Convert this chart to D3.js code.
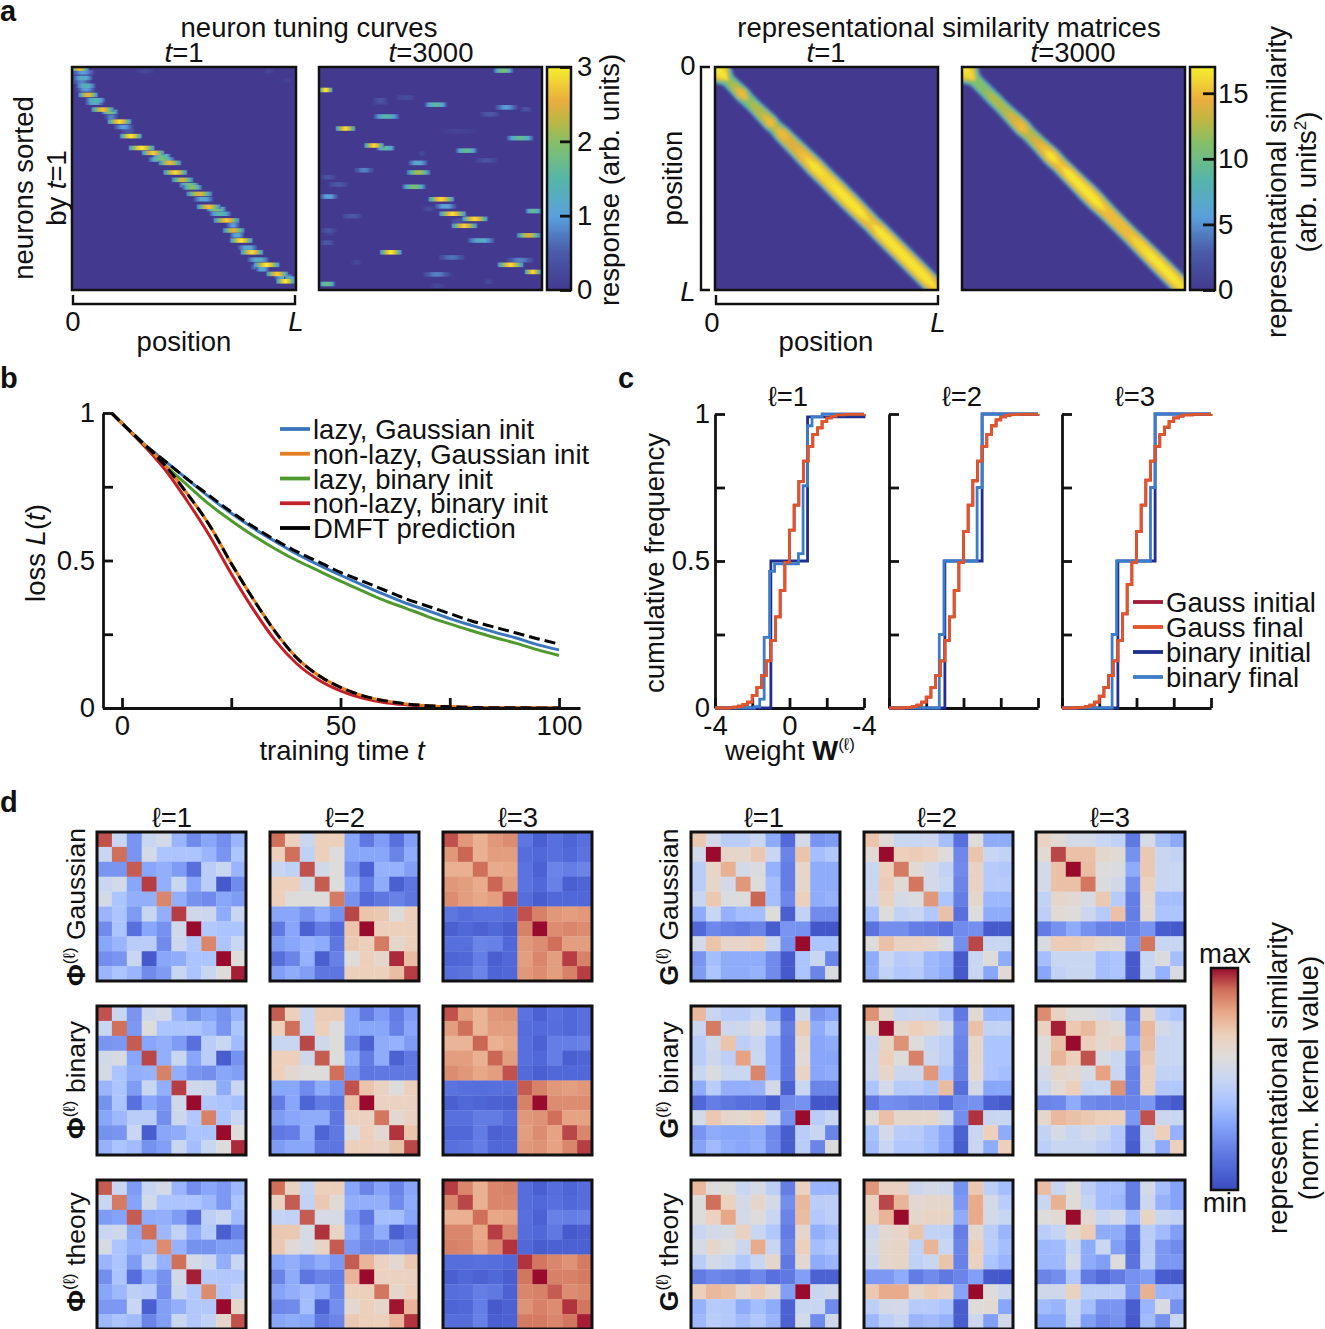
<!DOCTYPE html>
<html>
<head>
<meta charset="utf-8">
<script src="https://cdnjs.cloudflare.com/ajax/libs/d3/7.8.5/d3.min.js"></script>
<style>
html, body { margin: 0; padding: 0; background: #fff; }
svg { display: block; }
text { font-family: "Liberation Sans", Arial, sans-serif; font-size: 27.5px; fill: #111; }
.tick text { font-size: 27.5px; }
</style>
</head>
<body>
<div id="chart"></div>
<script>
// ---- panel a: tuning curves, [neuron %, position %, half width %, peak response]
var tuningStart = [
	[0.7,3.4,4.6,2.6],[2.4,4.9,5.6,1],[4.9,4.9,4.9,1.3],[6.6,4.3,4.6,.8],[8.4,6.2,4.9,1.4],[10,6.2,4.6,1],
	[12.5,7.2,4.9,2.6],[14.9,10.5,4.9,1.5],[16,10,4.6,1.2],[19.1,13.7,5.6,2.7],[20.1,16.9,4.1,2],[22.4,17.5,3.4,.8],
	[24.5,21.2,5.9,2.9],[26.9,23,4.9,1],[28.7,25,3.4,.5],[31,26.3,5.4,3],[36.3,31.1,6.4,3],[38.5,36.2,5.6,2.8],
	[40,40,4.6,1.8],[41.5,40,6.4,1.9],[43,43.7,5.6,2.6],[47.3,46.1,5.9,2.9],[50.6,49.3,5.4,2.4],[53,52.2,4.9,1.9],
	[54,53.7,4.9,2],[56.9,56.8,6.4,2.5],[59.3,58.7,4.9,1.2],[62.7,61,5.9,2.7],[63.7,64.4,4.9,2],[65.8,66.2,5.4,1.5],
	[68.8,69,6.4,2.8],[71,71.9,3.4,1],[73.3,72.2,5.4,2.5],[75.5,73.7,3.6,1.2],[77.8,75.6,5.6,3],[81,78.4,4.9,1.2],
	[83.1,80.3,5.6,2.9],[86.4,83.1,5.4,1.3],[88.7,86.9,6.4,3],[89.7,84,4.6,1.2],[90.7,85,3.4,1.2],[92.8,91.6,5.4,2.8],
	[94,94.4,4.6,1.3],[94.9,97.2,2.8,1.5],[96.1,95.3,4.6,3],[1.8,32.5,4.6,.2],[1.8,87.8,2.3,.2],[6,96.2,2.3,.15]
];
var tuningEnd = [
	[1.6,82.7,4.9,1.9],[10.3,3,3.4,3],[13.7,38.8,4.9,.3],[14.9,27.5,3.6,.4],[15.8,27.5,4.1,.3],[16.9,52.4,5.6,1.6],
	[18.1,84,5.6,1],[19,92.8,2.8,.4],[21.2,76.5,4.6,.5],[22.2,30.3,6.4,1.5],[27.6,11.9,4.9,2.9],[28.8,62.3,9,.15],
	[31.9,90.2,6.7,1.7],[35.2,24.7,4.9,2.9],[36.4,29.9,4.6,1.6],[37.5,66.1,5.4,1.7],[38.7,46.3,1.8,.2],[41.9,75.1,5.4,.4],
	[43,44.4,4.9,1.2],[46.3,20.2,4.9,.8],[47.3,44.6,5.9,2.2],[49.4,4.3,3.6,.4],[52.7,8.7,4.9,.5],[53.7,42.6,5.9,1.9],
	[58.1,4.3,4.6,1.1],[59.3,54.8,6.4,2.9],[62.5,56.7,5.4,1.1],[63.6,49.2,3.1,.3],[64.6,96.2,4.1,1.7],[65.8,59.9,6.7,2.9],
	[66.9,14.9,4.9,.5],[68.1,69.9,6.4,2.9],[69,62.3,3.4,.4],[71.2,65.2,6.4,2.8],[73.3,4.3,4.1,.4],[74.5,4.9,2.3,.2],
	[75.5,94,5.9,2.5],[77.8,72.7,6.7,1.3],[78.8,3.6,3.4,.5],[83.1,32.2,5.4,3],[85.4,59.5,6.4,.7],[86.6,90.2,6.7,.8],
	[87.6,16.8,2.8,.2],[88.7,85.9,6.4,2.9],[91.9,95.9,4.1,2.9],[93,52.9,6.7,.8],[96.3,75.9,2.3,.2],[97.3,3.6,4.1,1.8],[98.2,53.3,3.6,.2]
];
// peak profile along the diagonal of the similarity matrices
var simPosStart  = [0,3,6,9,12,15,18,21,25,27,30,33,36,40,45,50,55,60,65,70,74,80,85,90,95,100];
var simPeakStart = [16.8,16.8,12.5,13.5,15.5,12.5,13,14,15.5,13,15.5,15,15,16,16.8,16.5,16.8,16.8,16.8,15.5,16.8,16.8,16.8,16.8,16.8,15.5];
var simHalfStart = [5.4,4.4,2.6,2.7,2.9,2.7,2.7,2.8,3,2.8,3.1,3.2,3.3,3.4,3.6,3.5,3.6,3.6,3.5,3.4,3.5,3.5,3.5,3.5,3.5,3.5];
var simPosEnd    = [0,3,6,10,14,18,20,24,27,30,34,37,40,44,48,52,56,60,65,70,75,80,85,90,95,100];
var simPeakEnd   = [16.8,16.5,12.5,12.5,13,13,13.5,15,15.5,14,14.5,15.5,16.8,15.5,16.8,16.8,16.8,16.8,15.8,15.8,15.8,16.5,16.8,16.8,16.8,16.5];
var simHalfEnd   = [5.4,4.4,2.6,2.6,2.7,2.7,2.8,3,3.2,2.9,3,3.2,3.4,3.2,3.3,3.4,3.6,3.6,3.3,3.2,3.2,3.3,3.4,3.5,3.5,3.5];
// band cross-section: share of the local peak against share of the half width
var bandLevel = [0.05,0.2,0.35,0.5,0.65,0.8,0.9,0.97,1];
var bandWidth = [1,0.9,0.84,0.78,0.72,0.64,0.54,0.38,0.2];

// ---- panel b: loss curves
var lossTime = [-2.4,0,5,10,15,20,25,30,35,40,45,50,55,60,65,70,75,80,85,90,95,100];
var lazyDmft   = [1,.965,.895,.835,.775,.72,.665,.615,.57,.53,.495,.46,.43,.40,.37,.345,.32,.295,.275,.255,.235,.217];
var lazyGauss  = [1,.965,.895,.835,.775,.715,.66,.61,.565,.522,.485,.45,.417,.385,.355,.33,.303,.28,.258,.238,.215,.197];
var lazyBinary = [1,.965,.89,.82,.755,.69,.635,.585,.54,.5,.465,.43,.397,.365,.338,.31,.285,.262,.24,.22,.198,.178];
var richDmft   = [1,.965,.895,.82,.725,.62,.49,.37,.26,.17,.11,.07,.042,.025,.014,.008,.004,.002,.001,.001,0,0];
var richGauss  = [1,.965,.895,.82,.725,.62,.49,.37,.26,.17,.11,.07,.042,.025,.014,.008,.004,.002,.001,.001,0,0];
var richBinary = [1,.965,.89,.805,.70,.585,.455,.335,.23,.15,.095,.058,.034,.019,.011,.006,.003,.002,.001,.001,0,0];
var lossLegend = ["lazy, Gaussian init","non-lazy, Gaussian init","lazy, binary init","non-lazy, binary init","DMFT prediction"];
var lossColors = ["#3a76bb","#e5801f","#4f9a2e","#c21f26","#000000"];

// ---- panel c: weight distributions
var gaussBins = [-4,-3.25,-3,-2.75,-2.5,-2.25,-2,-1.75,-1.5,-1.25,-1,-.75,-.5,-.25,0,.25,.5,.75,1,1.25,1.5,1.75,2,2.25,2.5,3,4];
var gaussFinal1 = [0,.001,.003,.006,.012,.02,.043,.07,.11,.16,.23,.31,.40,.495,.605,.69,.77,.84,.89,.93,.953,.975,.987,.992,.997,.999,1];
var gaussFinal2 = [0,.001,.002,.005,.01,.02,.037,.07,.11,.16,.23,.31,.40,.495,.60,.69,.773,.84,.89,.93,.96,.98,.99,.995,.998,.999,1];
var gaussFinal3 = [0,.001,.002,.005,.01,.02,.04,.07,.11,.16,.23,.32,.42,.495,.60,.69,.775,.84,.89,.93,.955,.975,.987,.993,.997,.999,1];
var binaryInitialX1 = [-4,-1,.97,4];
var binaryInitialY1 = [0,.5,.99,1];
var binaryInitialX = [-4,-1,1,4];
var binaryInitialY = [0,.5,1,1];
var binaryFinalX1 = [-4,-1.9,-1.6,-1.36,-1.07,-.8,.48,.73,.97,1.21,1.75,4];
var binaryFinalY1 = [0,.005,.03,.24,.465,.49,.525,.756,.96,.99,1,1];
var binaryFinalX2 = [-4,-1.3,-1.05,.73,1,4];
var binaryFinalY2 = [0,.25,.5,.75,1,1];
var binaryFinalX3 = [-4,-1.31,-1.07,.75,1,4];
var binaryFinalY3 = [0,.25,.5,.75,1,1];
var weightLegend = ["Gauss initial","Gauss final","binary initial","binary final"];
var weightColors = ["#a01c38","#e0552a","#1f2f90","#3d7cc9"];

// ---- panel d: kernels, 0 = min, 10 = max
var phiGauss1 = [
[9.3,5,2.5,5,5.5,3.5,2.2,3,2.3,3.5],[5,9,2.5,5.5,4,4,4,3.5,2.5,4],[2.5,2.5,9.2,3,3.3,2.7,1.3,4.5,5,3.5],
[5,5.5,3,9.5,3.3,5,3,4.5,.5,2.2],[5.5,4,3.3,3.3,8.6,3.3,2.4,2.2,3,2.7],[3.5,4,2.7,5,3.3,9.5,5.3,5.2,3.2,5],
[2.2,4,1.3,3,2.4,5.3,10,4.2,4,4],[3,3.5,4.5,4.5,2.2,5.2,4.2,8.6,4,5],[2.3,2.5,5,.5,3,3.2,4,4,10,6],[3.5,4,3.5,2.2,2.7,5,4,5,6,9.8]];
var phiGauss2 = [
[9,7,5,7,7,3,1.6,2.7,1.3,2.8],[7,9,4.7,7,6,3,3,3,2,3.2],[5,4.7,9.3,5.4,6,2.4,.8,3.4,3.4,2.8],
[7,7,5.4,9.2,6,3.2,1.8,3.2,.7,1.5],[7,6,6,6,8.8,2.4,1.1,1.5,1.9,1.5],[3,3,2.4,3.2,2.4,9.4,7.3,7.2,6,7],
[1.6,3,.8,1.8,1.1,7.3,10,7,7,7],[2.7,3,3.4,3.2,1.5,7.2,7,8.8,6.5,7],[1.3,2,3.4,.7,1.9,6,7,6.5,9.7,7.5],[2.8,3.2,2.8,1.5,1.5,7,7,7,7.5,9.5]];
var phiGauss3 = [
[9.3,8.3,7.8,8.3,8.5,1.5,.7,1.3,.9,1.3],[8.3,9.1,7.8,8.2,8.2,1.2,1,1.3,1,1.4],[7.8,7.8,9,7.9,8,1.4,.8,2,1.8,2],
[8.3,8.2,7.9,9.1,8.2,1.4,1,1.9,.7,.9],[8.5,8.2,8,8.2,9.3,1.2,.6,1,1,1],[1.5,1.2,1.4,1.4,1.2,9.3,8.7,8.3,8.2,8.3],
[.7,1,.8,1,.6,8.7,10,8.5,8.6,8.5],[1.3,1.3,2,1.9,1,8.3,8.5,9,8.2,8.2],[.9,1,1.8,.7,1,8.2,8.6,8.2,9.5,8.7],[1.3,1.4,2,.9,1,8.3,8.5,8.2,8.7,9.5]];
var phiBinary1 = [
[9.3,5,2.5,5.2,5.5,3.5,2.4,3,2.4,3.4],[5,9,2.6,6,4,4,4,3.6,2.5,4],[2.5,2.6,9.2,3,3.3,2.7,1.3,4.5,5,3.7],
[5.4,5.7,3,9.4,3.3,5,3,4.5,.6,2.4],[5.5,4,3.3,3.4,8.7,3.3,2.5,2.3,3,2.8],[3.5,4,2.7,5,3.3,9.5,5.3,5.2,3.2,5],
[2.4,4,1.3,3,2.5,5.3,10,4.2,4,3.8],[3,3.6,4.5,4.5,2.3,5.2,4.2,8.7,4,5],[2.4,2.5,5,.6,3,3.2,4,4,10,6],[3.4,4,3.7,2.4,2.8,5,3.8,5,6,9.7]];
var phiBinary2 = [
[9.2,7,5,7.1,7.1,3,1.7,2.7,1.7,2.7],[7,9,5,7,6,3,3,3,1.9,3],[5,5,9.4,5.3,6,2.2,.8,3.2,3.4,2.7],
[7,7,5.3,9.2,6,3.2,1.7,3.2,.8,1.6],[7,6.3,6,6,9,2.5,1.5,1.6,1.6,1.6],[3,3,2.2,3.2,2.4,9.3,7.3,6.8,6,7],
[1.7,3,.9,1.7,1.4,7.4,10,6.8,6.8,6.8],[2.7,3,3.2,3.2,1.5,6.9,6.9,8.9,6.3,6.8],[1.6,1.8,3.2,.9,1.6,5.8,7,6.3,9.6,7.3],[2.7,3,3,1.6,1.5,7,7,6.8,7.4,9.4]];
var phiBinary3 = [
[9.3,8.2,7.7,8.3,8.4,1.4,.8,1.3,1,1.3],[8.2,9,7.7,8.2,8.2,1.2,1.1,1.2,1,1.3],[7.7,7.7,9.1,7.8,8,1.3,.8,1.8,1.8,1.9],
[8.2,8.2,7.8,9.1,8.2,1.3,1,1.8,.7,.9],[8.5,8.3,8,8.2,9.3,1.1,.7,1,1,1],[1.4,1.3,1.2,1.3,1.3,9.2,8.7,8.3,8.2,8.3],
[.7,1,.9,.8,.7,8.7,10,8.5,8.5,8.5],[1.3,1.3,1.7,1.7,1.2,8.3,8.4,9,8.1,8.1],[1,1,1.7,.8,.9,8.2,8.5,8.1,9.4,8.6],[1.3,1.4,1.8,1,1,8.3,8.4,8.1,8.6,9.5]];
var phiTheory1 = [
[9.2,5,2.7,5,5.5,3.5,2.3,3,2.6,3.6],[5,8.8,2.9,5.4,4,4,4,3.6,2.6,4],[2.7,2.9,9.2,3.2,3.3,2.7,1.2,4.6,5,3.7],
[5,5.3,3.2,9,3.6,4.8,3.2,4.4,.7,2],[5.6,4,3.4,3.6,8.5,3.4,2.4,2.4,2.8,2.8],[3.5,4,2.7,4.8,3.4,9,5.5,5,3.3,5],
[2.3,4,1.2,3.2,2.4,5.4,9.8,4.3,4.2,4.2],[3,3.6,4.6,4.4,2.3,5,4.3,8.5,4.2,4.8],[2.6,2.6,5,.7,2.8,3.3,4.2,4.2,10,6.5],[3.6,4,3.7,2,2.8,5,4.2,4.8,6.5,9.3]];
var phiTheory2 = [
[9,6.8,4.9,7,7,3,2,2.9,2,3],[6.8,9.2,4.8,7.2,6.2,3.3,3.3,3.3,2.2,3.2],[4.9,4.8,9.2,5.6,5.6,2.7,1.5,3.8,3.8,3],
[7.2,7.2,5.6,9.6,6.7,3.2,2.2,3.2,.8,1.5],[7.2,6.2,5.6,6.7,9.2,2.6,2,2,2.4,2],[3,3.3,2.7,3.2,2.6,9.2,7.7,6.9,6.3,7.2],
[2,3.2,1.5,2,1.8,7.7,10,6.9,6.9,6.9],[2.9,3.3,3.7,3.2,2,7,7,8.9,6.5,7],[2.1,2.2,3.8,.8,2.3,6.3,7,6.5,9.9,7.7],[3,3.2,3,1.6,2,7.2,7,7,7.7,9.6]];
var phiTheory3 = [
[9.5,8.6,7.8,8.6,8.7,1.2,.7,1.2,.9,1.2],[8.6,9.4,7.8,8.6,8.6,1.2,1,1.3,1,1.2],[7.8,7.8,9,8,8.1,1.3,.8,1.9,1.8,1.9],
[8.6,8.6,8,9.5,8.6,1.2,1,1.6,.5,.7],[8.7,8.6,8.1,8.6,9.6,1,.6,.8,.8,.8],[1.2,1.2,1.3,1.2,1,9.6,8.9,8.6,8.4,8.8],
[.7,1,.8,1,.6,8.9,10,8.7,8.7,8.8],[1.2,1.3,1.8,1.6,.8,8.6,8.7,9.2,8.5,8.6],[.9,1,1.8,.5,.8,8.4,8.7,8.5,9.6,8.9],[1.2,1.2,1.9,.7,.8,8.8,8.8,8.6,8.9,9.8]];
var gGauss1 = [
[7.2,5.5,4.5,4.5,5,3.2,1.1,5.5,2.5,2.7],[5.5,10,6.6,6.5,7.2,5,2,7.3,3.8,4.2],[4.5,6.6,7.8,5.5,5.8,3.4,1.8,6.6,3.2,3.2],
[4.5,6.5,5.5,8.3,6,3.8,1.8,6.5,3.2,3.2],[5,7.2,5.8,6,9.1,3.8,2.1,7,3.2,3.4],[3.2,5,3.4,3.8,3.8,6,.7,4.8,2.2,2.2],
[1,2.1,1.8,1.6,2,.6,2.5,2.4,.4,.4],[5.5,7.3,6.6,6.6,7,5,2.4,10,4,4],[2.5,3.8,3.2,3.2,3.2,2.2,.5,4,5,2],[2.7,4,3.2,3.2,3.4,2.2,.5,4,2,5.7]];
var gGauss2 = [
[7.3,6.2,5,5,5.2,3.8,1.3,6,3.2,3.2],[6.2,10,7,7.1,6.9,6,2.1,7.3,5,4.8],[5,7,8.8,6.2,5.5,4.8,2.2,6.8,4.4,4.2],
[5,7.1,6.2,8.9,5.5,5,2,6.8,4.4,4.4],[5.2,6.9,5.6,5.8,8.3,4,1.8,6.5,3.6,3.6],[3.8,6,4.8,5,4.2,7.4,1.3,6,3.2,3.2],
[1.4,2.3,2.3,1.8,1.6,1.2,2.2,2.3,.5,.5],[6,7.4,6.8,6.8,6.6,5.8,2.3,9.4,5,5],[3.2,5,4.4,4.6,3.6,3.3,.5,5,6,3.2],[3.3,4.8,4.2,4.4,3.6,3.2,.5,5,3,6.2]];
var gGauss3 = [
[6.8,6.2,5.5,5.5,5,4.7,1.6,5.6,3.8,3.1],[6.2,9.4,7.4,7.4,6.5,6.2,2.4,7.2,5,4.8],[5.5,7.4,10,7.5,6,5.8,3.2,7.2,5,5],
[5.5,7.4,7.4,8.9,5.8,5.4,2.3,6.9,5,5],[4.8,6.5,6.3,5.7,7.2,4.4,1.8,6.4,3.8,3.8],[4.6,6.2,6,5.2,4.4,7.4,1.8,6.3,4,4],
[1.7,2.4,3.2,2.4,1.9,1.8,1.9,2.5,.6,.5],[5.7,7.1,7.1,6.9,6.4,6.3,2.5,8.9,5,5],[3.8,5,5,5,3.8,4,.5,5,5.8,3.8],[3,4.8,5,5,3.8,4,.5,5,3.4,5.7]];
var gBinary1 = [
[7.6,5,4.5,4.5,5,3.2,1.1,5.4,2.5,2.9],[5,8.8,5.2,5.3,5.8,4.5,1.7,7.1,3.2,4],[4.5,5.4,7.3,4.6,5,3.3,1.5,6.4,3,3.2],
[4.5,5.2,4.6,8.1,5.1,3.3,1.5,6.2,3,3],[5,5.8,5,5.1,8.6,3.4,1.5,6.7,3,3.2],[3.2,4.5,3.3,3.3,3.4,5.5,.8,5,2,2],
[1,1.8,1.5,1.3,1.3,.6,2.2,2.4,.4,.4],[5.5,7.2,6.5,6.4,6.8,5,2.4,10,4.5,5],[2.5,3.2,3,3,3.2,2.1,.6,4.5,5,2],[2.9,3.7,3.2,3,3.3,2.2,.6,4.5,2,5.9]];
var gBinary2 = [
[8.4,6.5,5,5.2,5,4.2,1.6,6.2,3.6,3.6],[6.5,10,6.5,7,6.6,5.5,2.2,7.4,4.8,4.8],[5,6.7,8.4,6,5,4.6,2,6.6,4,4],
[5.2,7,6,8.7,5.2,4.6,1.9,6.5,4,4],[5.2,6.6,5.2,5.2,8.3,4,1.9,6.4,4,3.8],[4,5.5,4.4,4.5,4,7.5,1.2,5.4,3,3],
[1.6,2.3,2.2,2,2,1.3,2.2,2.4,.8,.5],[6.1,7.4,6.5,6.5,6.5,5.4,2.3,9.6,5,5],[3.9,5.5,4.5,4.4,3.8,3,.8,5,7,3.2],[3.7,5,4.2,4.2,3.8,3,.6,5,3.2,7]];
var gBinary3 = [
[8.5,6.8,6,6,5.6,5,1.9,6.5,4.5,4],[6.8,9.8,7.2,7.6,6.5,6.2,2.4,7.6,5.5,5],[6,7.4,10,7,6.4,6.8,3.2,7.5,5,5],
[6,7.7,7,9.3,5.6,5.1,2.2,7.2,5,5],[5.5,6.5,6.3,5.6,8.1,5,1.9,7,4.8,4.8],[5,6.2,7,5,5,8.4,1.9,7,4.2,4.2],
[2,2.1,3.2,2.2,2,2,2,2.6,.9,.5],[6.5,7.6,7.4,7.2,7,7,2.6,9.3,5.2,5.1],[4.8,5.6,5,5.5,5,4.3,.9,5.2,7,3.4],[4.6,5,5,5,4.6,4.2,.6,5,3.2,7]];
var gTheory1 = [
[7.6,6,6,5,5.6,4.6,1.8,6.9,3.5,3.5],[6,9,6.9,5.5,6.5,5.5,2.3,7.6,4.5,4.6],[6,6.9,8,5.5,6,5,2,7.5,4.3,4.6],
[5,5.5,5.6,6.8,5,4.2,1.7,6.5,3.3,3.7],[5.6,6.5,6,5.2,7.9,5,2,7,3.8,4.1],[4.5,5.5,5,4.2,5,6.5,1.6,6.3,3.2,3.5],
[1.7,2.1,1.9,1.6,2.1,1.3,1.6,2.8,.8,.8],[7,7.6,7.4,6.5,7.1,6.3,2.8,10,5,5.3],[3.4,4.4,4.3,3.2,3.8,3.2,.8,5,5,2.2],[3.6,4.5,4.3,3.7,4.2,3.5,.8,5.5,2.2,5.3]];
var gTheory2 = [
[8.3,6.8,6.8,5.2,5.5,5.3,2.4,7.2,4.6,3.8],[6.8,9.4,7.7,6.3,6.5,6.5,2.6,7.9,5.5,4.5],[6.8,7.7,10,6.5,6.7,6.7,3.2,7.9,5.5,5],
[5.2,6.3,6.6,7.3,4.8,4.7,1.8,6.5,4.5,3.5],[5.5,6.5,6.7,4.8,7.7,5,2,7,4.5,3.8],[5.2,6.5,6.7,4.7,5,7.3,1.9,6.8,4,3.5],
[2.6,2.6,3.2,1.7,2.2,1.6,2,2.8,.5,.4],[7.2,7.9,7.9,6.5,7.1,6.8,2.9,10,6,5.2],[4.6,5.4,5.5,4.4,4.4,4,.6,6,6.2,3],[3.6,4.6,5,3.5,3.7,3.4,.6,5.2,2.8,5.4]];
var gTheory3 = [
[7.5,5,6,4.6,3.8,3.8,1.8,5.5,3.8,2.9],[5,7.8,6.1,4.9,3.8,3.6,1.8,5.2,3.4,2.9],[6,6.2,10,6.3,5,5.5,3.7,6.7,5,4.8],
[4.5,4.9,6.3,7.1,3.2,3.2,1.6,4.5,3.7,2.8],[3.6,3.7,5,3.2,5.1,2.8,1.2,4.5,2.6,2.2],[3.6,3.6,5.5,3.2,2.8,6,1.4,4.6,2.6,2.6],
[2,2.3,4.2,1.7,1.1,1.7,2.4,2.7,.6,.5],[5.3,5.3,6.8,4.6,4.6,4.6,2.5,7.8,3.5,3.5],[3.7,3.5,5,3.8,2.5,2.5,.6,3.5,5.7,2.4],[3,3,4.9,2.8,2.1,2.4,.5,3.7,2.4,5]];

var layerTicks = ["1","2","3"];

// ---- colour maps
var heatStops = ["#433a90","#4a5ba8","#5aa0dc","#55b6a8","#85bf68","#b9b845","#e9ad3e","#f6ef2e"];
var heatStopAt = [0,.17,.33,.5,.66,.75,.85,1];
var heatColor = d3.scaleLinear().domain(heatStopAt).range(heatStops).clamp(true);

var kernelStops = ["#3b4cc0","#5068d8","#6a84e8","#88a6fa","#acc4ff","#c8d6f2","#dedcda","#ecd0bc","#e8a888","#d0705a","#9a0a2c"];
var kernelColor = d3.scaleLinear().domain(d3.range(11)).range(kernelStops).clamp(true);

var svg = d3.select("#chart").append("svg").attr("width", 1325).attr("height", 1329);
var defs = svg.append("defs");
defs.append("filter").attr("id", "soft").append("feGaussianBlur").attr("stdDeviation", 1.6);
defs.append("filter").attr("id", "softer").append("feGaussianBlur").attr("stdDeviation", 0.7);

// text helper, parts are plain strings or {t, i, b, sup}
function label(x, y, parts, opts) {
	opts = opts || {};
	var t = svg.append("text")
		.attr("text-anchor", opts.anchor || "middle")
		.attr("transform", "translate(" + x + "," + y + ")" + (opts.rotate ? " rotate(-90)" : ""));
	if (opts.size) t.style("font-size", opts.size + "px");
	if (opts.bold) t.style("font-weight", "bold");
	var lift = 0;
	[].concat(parts).forEach(function (p) {
		if (typeof p === "string") p = { t: p };
		var s = t.append("tspan").text(p.t);
		if (p.i) s.style("font-style", "italic");
		if (p.b) s.style("font-weight", "bold");
		if (p.sup) {
			s.attr("dy", -10).style("font-size", "17px");
			lift = 10;
		} else if (lift) {
			s.attr("dy", lift);
			lift = 0;
		}
	});
	return t;
}

function frame(x, y, w, h, sw) {
	svg.append("rect").attr("x", x).attr("y", y).attr("width", w).attr("height", h)
		.attr("fill", "none").attr("stroke", "#111").attr("stroke-width", sw || 2.5);
}

function styleAxis(g, sw) {
	g.selectAll("path, line").attr("stroke", "#111").attr("stroke-width", sw || 2.8);
	g.select(".domain").attr("fill", "none");
	g.selectAll("text").attr("fill", "#111");
}

function colorbar(id, x, y, w, h, stops, at) {
	var grad = defs.append("linearGradient").attr("id", id)
		.attr("x1", 0).attr("x2", 0).attr("y1", 1).attr("y2", 0);
	stops.forEach(function (c, i) {
		grad.append("stop").attr("offset", at[i]).attr("stop-color", c);
	});
	svg.append("rect").attr("x", x).attr("y", y).attr("width", w).attr("height", h).attr("fill", "url(#" + id + ")");
	frame(x, y, w, h);
}

// ---- panel a
function tuningPanel(id, x0, y0, w, h, curves) {
	var x = d3.scaleLinear().domain([0, 100]).range([x0, x0 + w]);
	var y = d3.scaleLinear().domain([0, 100]).range([y0, y0 + h]);
	defs.append("clipPath").attr("id", "clip" + id).append("rect")
		.attr("x", x0).attr("y", y0).attr("width", w).attr("height", h);
	svg.append("rect").attr("x", x0).attr("y", y0).attr("width", w).attr("height", h).attr("fill", heatColor(0));
	var g = svg.append("g").attr("clip-path", "url(#clip" + id + ")").append("g").attr("filter", "url(#softer)");
	var sorted = curves.slice().sort(function (a, b) { return a[3] - b[3]; });
	var thick = y(2.05) - y(0);
	sorted.forEach(function (d, i) {
		var gid = id + "s" + i;
		var grad = defs.append("linearGradient").attr("id", gid);
		[[0, 0], [.08, .3], [.22, .62], [.36, .9], [.5, 1], [.64, .9], [.78, .62], [.92, .3], [1, 0]].forEach(function (s) {
			grad.append("stop").attr("offset", s[0])
				.attr("stop-color", heatColor(d[3] * s[1] / 3))
				.attr("stop-opacity", s[1] === 0 ? 0 : 1);
		});
		g.append("rect")
			.attr("x", x(d[1] - d[2])).attr("y", y(d[0]) - thick / 2)
			.attr("width", x(d[2] * 2) - x(0)).attr("height", thick)
			.attr("fill", "url(#" + gid + ")");
	});
	frame(x0, y0, w, h);
}

tuningPanel("ta", 72, 67, 224, 223, tuningStart);
tuningPanel("tb", 319, 67, 223, 223, tuningEnd);

function simPanel(id, x0, y0, w, h, pos, peak, half) {
	var x = d3.scaleLinear().domain([0, 100]).range([x0, x0 + w]);
	var y = d3.scaleLinear().domain([0, 100]).range([y0, y0 + h]);
	var simMax = 17;
	var widthAt = d3.scaleLinear().domain(bandLevel).range(bandWidth).clamp(true);
	defs.append("clipPath").attr("id", "clip" + id).append("rect")
		.attr("x", x0).attr("y", y0).attr("width", w).attr("height", h);
	svg.append("rect").attr("x", x0).attr("y", y0).attr("width", w).attr("height", h).attr("fill", heatColor(0));
	var inner = svg.append("g").attr("clip-path", "url(#clip" + id + ")").append("g").attr("filter", "url(#soft)");
	var line = d3.line().x(function (d) { return x(d[0]); }).y(function (d) { return y(d[1]); });
	[.8, 2, 3.5, 5, 6.5, 8, 9.5, 11, 12.5, 14, 15, 16, 16.7].forEach(function (lv) {
		var up = [], down = [];
		pos.forEach(function (s, i) {
			var d = half[i] * (lv < peak[i] ? widthAt(lv / peak[i]) : 0);
			up.push([s + d, s - d]);
			down.unshift([s - d, s + d]);
		});
		inner.append("path").attr("d", line(up.concat(down)) + "Z").attr("fill", heatColor(lv / simMax));
	});
	frame(x0, y0, w, h);
}

simPanel("sa", 715, 67, 223, 223, simPosStart, simPeakStart, simHalfStart);
simPanel("sb", 962, 67, 223, 223, simPosEnd, simPeakEnd, simHalfEnd);

colorbar("cbA", 547, 67, 24, 223, heatStops, heatStopAt);
colorbar("cbB", 1190, 67, 25, 223, heatStops, heatStopAt);

var respScale = d3.scaleLinear().domain([0, 3]).range([290, 67]);
var respAxis = svg.append("g").attr("transform", "translate(571,0)")
	.call(d3.axisRight(respScale).tickValues([0, 1, 2, 3]).tickFormat(d3.format("d")).tickSizeInner(-11).tickSizeOuter(0).tickPadding(6));
respAxis.select(".domain").remove();
styleAxis(respAxis);
var simScale = d3.scaleLinear().domain([0, 17]).range([290, 67]);
var simAxis = svg.append("g").attr("transform", "translate(1215,0)")
	.call(d3.axisRight(simScale).tickValues([0, 5, 10, 15]).tickFormat(d3.format("d")).tickSizeInner(-12).tickSizeOuter(0).tickPadding(3));
simAxis.select(".domain").remove();
styleAxis(simAxis);

function bracket(pts) {
	svg.append("path").attr("d", d3.line()(pts)).attr("fill", "none").attr("stroke", "#111").attr("stroke-width", 2.4);
}
bracket([[73, 295], [73, 304], [295, 304], [295, 295]]);
bracket([[716, 295], [716, 304], [938, 304], [938, 295]]);
bracket([[710, 67], [701, 67], [701, 290], [710, 290]]);

label(0, 21, "a", { anchor: "start", bold: true, size: 29 });
label(309, 37, "neuron tuning curves");
label(184, 62, [{ t: "t", i: 1 }, "=1"]);
label(431, 62, [{ t: "t", i: 1 }, "=3000"]);
label(949, 37, "representational similarity matrices");
label(826, 62, [{ t: "t", i: 1 }, "=1"]);
label(1073, 62, [{ t: "t", i: 1 }, "=3000"]);
label(33, 188, "neurons sorted", { rotate: 1 });
label(66, 188, ["by ", { t: "t", i: 1 }, "=1"], { rotate: 1 });
label(73, 331, "0");
label(296, 331, { t: "L", i: 1 });
label(184, 351, "position");
label(619, 180, "response (arb. units)", { rotate: 1 });
label(688, 75, "0");
label(688, 301, { t: "L", i: 1 });
label(682, 178, "position", { rotate: 1 });
label(712, 332, "0");
label(938, 332, { t: "L", i: 1 });
label(826, 351, "position");
label(1286, 182, "representational similarity", { rotate: 1 });
label(1316, 182, ["(arb. units", { t: "2", sup: 1 }, ")"], { rotate: 1 });

// ---- panel b
label(0, 388, "b", { anchor: "start", bold: true, size: 29 });
var lossX = d3.scaleLinear().domain([-4.35, 104.8]).range([103, 580]);
var lossY = d3.scaleLinear().domain([0, 1]).range([708, 413]);
var lossLine = d3.line().curve(d3.curveMonotoneX)
	.x(function (d) { return lossX(d[0]); }).y(function (d) { return lossY(d[1]); });
function lossPath(vals, color, dash) {
	svg.append("path").datum(d3.zip(lossTime, vals)).attr("d", lossLine)
		.attr("fill", "none").attr("stroke", color).attr("stroke-width", 3)
		.attr("stroke-dasharray", dash || null);
}
lossPath(lazyBinary, lossColors[2]);
lossPath(lazyGauss, lossColors[0]);
lossPath(richBinary, lossColors[3]);
lossPath(richGauss, lossColors[1]);
lossPath(lazyDmft, lossColors[4], "11,5");
lossPath(richDmft, lossColors[4], "11,5");

var lossXAxis = svg.append("g").attr("transform", "translate(0,708)")
	.call(d3.axisBottom(lossX).tickValues([0, 25, 50, 75, 100])
		.tickFormat(function (d) { return d % 50 === 0 ? d : ""; })
		.tickSizeInner(-10).tickSizeOuter(0).tickPadding(7));
styleAxis(lossXAxis);
var lossYAxis = svg.append("g").attr("transform", "translate(103,0)")
	.call(d3.axisLeft(lossY).tickValues([0, .25, .5, .75, 1])
		.tickFormat(function (d) { return d === .25 || d === .75 ? "" : d; })
		.tickSizeInner(-10).tickSizeOuter(0).tickPadding(8));
styleAxis(lossYAxis);
label(45, 553, ["loss ", { t: "L", i: 1 }, "(", { t: "t", i: 1 }, ")"], { rotate: 1 });
label(342, 760, ["training time ", { t: "t", i: 1 }]);

var lossLegendY = d3.scalePoint().domain(lossLegend).range([429, 528]);
lossLegend.forEach(function (name, i) {
	svg.append("line").attr("x1", 280).attr("x2", 310).attr("y1", lossLegendY(name)).attr("y2", lossLegendY(name))
		.attr("stroke", lossColors[i]).attr("stroke-width", 3.8);
	label(313, lossLegendY(name) + 10, name, { anchor: "start" });
});

// ---- panel c
label(618, 388, "c", { anchor: "start", bold: true, size: 29 });
var weightY = d3.scaleLinear().domain([0, 1]).range([708, 414]);
var panelsC = [
	{ x0: 715, gauss: gaussFinal1, bfx: binaryFinalX1, bfy: binaryFinalY1, bix: binaryInitialX1, biy: binaryInitialY1, layer: 0 },
	{ x0: 889, gauss: gaussFinal2, bfx: binaryFinalX2, bfy: binaryFinalY2, bix: binaryInitialX, biy: binaryInitialY, layer: 1 },
	{ x0: 1062, gauss: gaussFinal3, bfx: binaryFinalX3, bfy: binaryFinalY3, bix: binaryInitialX, biy: binaryInitialY, layer: 2 }
];
panelsC.forEach(function (p) {
	var wx = d3.scaleLinear().domain([-4, 4]).range([p.x0, p.x0 + 149]);
	var step = d3.line().curve(d3.curveStepAfter)
		.x(function (d) { return wx(d[0]); }).y(function (d) { return weightY(d[1]); });
	function stepPath(xs, ys, c) {
		svg.append("path").datum(d3.zip(xs, ys)).attr("d", step)
			.attr("fill", "none").attr("stroke", c).attr("stroke-width", 2.8);
	}
	var ax = svg.append("g").attr("transform", "translate(0,708)")
		.call(d3.axisBottom(wx).tickValues([-4, -2, 0, 2, 4])
			.tickFormat(function (d) { return p.layer === 0 && d % 4 === 0 ? (d === 0 ? "0" : "-4") : ""; })
			.tickSizeInner(-10).tickSizeOuter(0).tickPadding(7));
	styleAxis(ax);
	var ay = svg.append("g").attr("transform", "translate(" + p.x0 + ",0)")
		.call(d3.axisLeft(weightY).tickValues([0, .25, .5, .75, 1])
			.tickFormat(function (d) { return p.layer === 0 && (d === 0 || d === .5 || d === 1) ? d : ""; })
			.tickSizeInner(-10).tickSizeOuter(0).tickPadding(5));
	styleAxis(ay);
	stepPath(gaussBins, p.gauss, weightColors[0]);
	stepPath(p.bix, p.biy, weightColors[2]);
	stepPath(p.bfx, p.bfy, weightColors[3]);
	stepPath(gaussBins, p.gauss, weightColors[1]);
	label(p.x0 + 73, 406, ["ℓ=" + layerTicks[p.layer]]);
});
label(664, 563, "cumulative frequency", { rotate: 1 });
label(790, 760, ["weight ", { t: "W", b: 1 }, { t: "(ℓ)", sup: 1 }]);

var weightLegendY = d3.scalePoint().domain(weightLegend).range([602, 677]);
weightLegend.forEach(function (name, i) {
	svg.append("line").attr("x1", 1133).attr("x2", 1163).attr("y1", weightLegendY(name)).attr("y2", weightLegendY(name))
		.attr("stroke", weightColors[i]).attr("stroke-width", 3.8);
	label(1166, weightLegendY(name) + 10, name, { anchor: "start" });
});

// ---- panel d
label(0, 812, "d", { anchor: "start", bold: true, size: 29 });
var kernelCols = [97, 270, 443, 691, 864, 1036];
var kernelHeads = [172, 345, 518, 764, 937, 1110];
var kernelRows = [832, 1006, 1180];
var kernelGrid = [
	[phiGauss1, phiGauss2, phiGauss3, gGauss1, gGauss2, gGauss3],
	[phiBinary1, phiBinary2, phiBinary3, gBinary1, gBinary2, gBinary3],
	[phiTheory1, phiTheory2, phiTheory3, gTheory1, gTheory2, gTheory3]
];
var cellIndex = d3.range(10);
kernelGrid.forEach(function (row, r) {
	row.forEach(function (m, c) {
		var x0 = kernelCols[c], y0 = kernelRows[r];
		var bx = d3.scaleBand().domain(cellIndex).range([x0, x0 + 149]);
		var by = d3.scaleBand().domain(cellIndex).range([y0, y0 + 149]);
		var cells = [];
		m.forEach(function (vals, i) {
			vals.forEach(function (v, j) { cells.push({ i: i, j: j, v: v }); });
		});
		svg.append("g").selectAll("rect").data(cells).enter().append("rect")
			.attr("x", function (d) { return bx(d.j); })
			.attr("y", function (d) { return by(d.i); })
			.attr("width", bx.bandwidth() + .3)
			.attr("height", by.bandwidth() + .3)
			.attr("fill", function (d) { return kernelColor(d.v); });
		frame(x0, y0, 149, 149, 3);
	});
});
kernelHeads.forEach(function (x, c) {
	label(x, 827, "ℓ=" + layerTicks[c % 3]);
});
var rowNames = ["Gaussian", "binary", "theory"];
var rowMid = [907, 1080, 1252];
rowNames.forEach(function (name, r) {
	label(85, rowMid[r], [{ t: "Φ", b: 1 }, { t: "(ℓ)", sup: 1 }, " " + name], { rotate: 1, size: 26.5 });
	label(678, rowMid[r], [{ t: "G", b: 1 }, { t: "(ℓ)", sup: 1 }, " " + name], { rotate: 1, size: 26.5 });
});
colorbar("cbK", 1211, 968, 27, 222, kernelStops, d3.range(11).map(function (d) { return d / 10; }));
label(1225, 963, "max");
label(1225, 1212, "min");
label(1287, 1078, "representational similarity", { rotate: 1 });
label(1318, 1078, "(norm. kernel value)", { rotate: 1 });
</script>
</body>
</html>
